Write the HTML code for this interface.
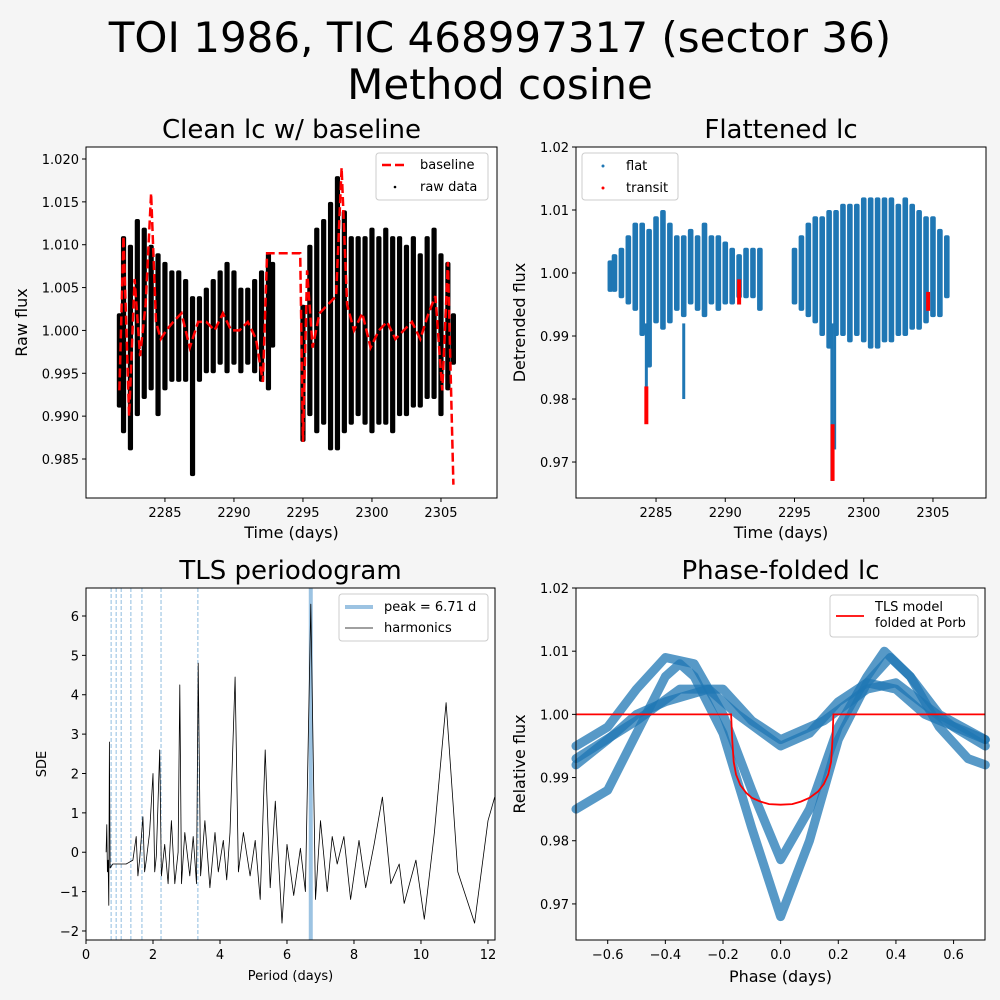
<!DOCTYPE html>
<html><head><meta charset="utf-8"><style>
html,body{margin:0;padding:0;background:#f5f5f5;}
svg{display:block;font-family:"DejaVu Sans","Liberation Sans",sans-serif;}
</style></head><body>
<svg id="fig" width="1000" height="1000" viewBox="0 0 1000 1000" xmlns="http://www.w3.org/2000/svg">
<rect x="0" y="0" width="1000" height="1000" fill="#f5f5f5"/>
<text x="500" y="52" text-anchor="middle" font-size="42" fill="#000">TOI 1986, TIC 468997317 (sector 36)</text>
<text x="500" y="99" text-anchor="middle" font-size="42" fill="#000">Method cosine</text>
</svg>
<script>
// ---- Panel 1: raw light curve (0.5-day bins: hi / lo envelope) ----
const rawTimes = [2281.7,2282,2282.5,2283,2283.5,2284,2284.5,2285,2285.5,2286,2286.5,2287,2287.5,2288,2288.5,2289,2289.5,2290,2290.5,2291,2291.5,2292,2292.5,2292.8,
 2295,2295.5,2296,2296.5,2297,2297.5,2298,2298.5,2299,2299.5,2300,2300.5,2301,2301.5,2302,2302.5,2303,2303.5,2304,2304.5,2305,2305.5,2305.9];
const rawHi = [1.002,1.011,1.010,1.013,1.012,1.010,1.009,1.008,1.007,1.007,1.006,1.004,1.004,1.005,1.006,1.007,1.008,1.007,1.005,1.005,1.006,1.007,1.009,1.008,
 1.003,1.010,1.012,1.013,1.015,1.018,1.014,1.011,1.011,1.011,1.012,1.011,1.012,1.011,1.011,1.010,1.011,1.009,1.011,1.012,1.009,1.008,1.002];
const rawLo = [0.991,0.988,0.986,0.990,0.992,0.993,0.990,0.993,0.994,0.994,0.994,0.983,0.994,0.995,0.995,0.996,0.995,0.996,0.995,0.996,0.995,0.994,0.993,0.998,
 0.987,0.990,0.988,0.989,0.986,0.986,0.988,0.989,0.990,0.989,0.988,0.989,0.989,0.988,0.990,0.990,0.991,0.991,0.992,0.992,0.990,0.993,0.996];
const baseT = [2281.7,2282,2282.4,2282.8,2283.2,2283.6,2284.0,2284.35,2284.7,2285.1,2285.6,2286.2,2286.8,2287.4,2288,2288.6,2289.2,2289.8,2290.4,2291,2291.6,2292.1,2292.4,2292.7,2294.8,
 2295.0,2295.3,2295.7,2296.2,2296.8,2297.4,2297.8,2298.2,2298.7,2299.3,2299.9,2300.5,2301.1,2301.7,2302.3,2302.9,2303.5,2304.1,2304.6,2305.1,2305.5,2305.9];
const baseF = [0.993,1.011,0.990,1.006,0.997,1.003,1.016,1.001,0.999,1.000,1.001,1.002,0.998,1.001,1.001,1.000,1.002,1.000,1.000,1.001,0.999,0.994,1.009,1.009,1.009,
 0.987,1.007,0.998,1.002,1.003,1.004,1.019,1.003,1.000,1.002,0.998,1.000,1.001,0.999,1.000,1.001,0.999,1.002,1.004,0.993,1.008,0.982];
// ---- Panel 2: flattened light curve ----
const flatTimes = [2281.7,2282,2282.5,2283,2283.5,2284,2284.5,2285,2285.5,2286,2286.5,2287,2287.5,2288,2288.5,2289,2289.5,2290,2290.5,2291,2291.5,2292,2292.5,
 2295,2295.5,2296,2296.5,2297,2297.5,2298,2298.5,2299,2299.5,2300,2300.5,2301,2301.5,2302,2302.5,2303,2303.5,2304,2304.5,2305,2305.5,2306];
const flatHi = [1.002,1.003,1.004,1.006,1.008,1.008,1.007,1.009,1.010,1.008,1.006,1.006,1.007,1.006,1.008,1.006,1.006,1.005,1.004,1.003,1.004,1.004,1.004,
 1.004,1.006,1.008,1.009,1.009,1.010,1.010,1.011,1.011,1.011,1.012,1.012,1.012,1.012,1.012,1.011,1.012,1.011,1.010,1.009,1.009,1.007,1.006];
const flatLo = [0.997,0.997,0.996,0.995,0.994,0.990,0.985,0.992,0.991,0.992,0.994,0.993,0.995,0.994,0.993,0.995,0.994,0.995,0.995,0.996,0.996,0.996,0.994,
 0.995,0.994,0.993,0.992,0.990,0.988,0.990,0.990,0.989,0.990,0.989,0.988,0.988,0.989,0.989,0.990,0.990,0.991,0.991,0.992,0.993,0.993,0.996];
const dipT = [2284.3,2287.0,2297.7,2297.9];
const dipMin = [0.977,0.980,0.967,0.972];
const transitT = [2284.3,2291.0,2297.75,2304.65];
const transitLo = [0.976,0.995,0.967,0.994];
const transitHi = [0.982,0.999,0.976,0.997];
// ---- Panel 3: TLS periodogram ----
const periods = [0.6,0.62,0.64,0.66,0.68,0.7,0.72,0.8,1.0,1.2,1.4,1.5,1.55,1.6,1.7,1.75,1.8,1.9,2.0,2.05,2.1,2.2,2.25,2.35,2.45,2.55,2.65,2.75,2.8,2.85,2.95,3.1,3.2,3.3,3.35,3.42,3.55,3.7,3.85,3.95,4.1,4.2,4.3,4.45,4.55,4.7,4.9,5.05,5.2,5.35,5.5,5.65,5.85,6.0,6.2,6.4,6.55,6.71,6.85,7.0,7.2,7.35,7.5,7.7,7.9,8.15,8.35,8.6,8.85,9.1,9.35,9.5,9.85,10.1,10.4,10.75,11.1,11.6,12.0,12.2];
const sde = [0,0.7,-0.5,-0.2,-1.35,2.8,-0.4,-0.3,-0.3,-0.3,-0.2,0.4,-0.6,-0.2,0.9,-0.5,-0.2,0.5,2.0,-0.5,-0.1,2.6,-0.6,0.2,-0.8,0.8,-0.8,0,4.25,-0.8,0.5,-0.6,0.4,-0.8,4.8,-0.6,0.8,-0.9,0.5,-0.5,0.3,-0.7,0.5,4.45,-0.5,0.5,-0.6,0.3,-1.2,2.6,-0.9,1.3,-1.8,0.2,-1.1,0.1,-1,6.3,-1.2,0.8,-1,0.4,-0.3,0.4,-1.2,0.3,-0.9,0.2,1.4,-0.8,-0.3,-1.3,-0.2,-1.7,0.5,3.8,-0.5,-1.8,0.8,1.4];
const harmonics = [0.75,0.9,1.05,1.34,1.67,2.24,3.34];
const peakPeriod = [6.71];
// ---- Panel 4: phase-folded ----
const phaseD = [-0.71,-0.6,-0.5,-0.4,-0.35,-0.3,-0.2,-0.1,0,0.1,0.2,0.3,0.38,0.45,0.55,0.65,0.71];
const fluxD  = [0.985,0.988,0.997,1.006,1.008,1.006,0.997,0.982,0.968,0.980,0.996,1.005,1.009,1.006,0.998,0.993,0.992];
const phaseM = [-0.71,-0.6,-0.5,-0.4,-0.3,-0.2,-0.1,0,0.1,0.2,0.3,0.36,0.45,0.55,0.71];
const fluxM  = [0.995,0.998,1.004,1.009,1.008,1.000,0.988,0.977,0.985,0.998,1.006,1.010,1.006,1.000,0.996];
const phaseS = [-0.71,-0.6,-0.5,-0.4,-0.25,-0.15,0,0.1,0.2,0.3,0.4,0.5,0.71];
const fluxS  = [0.992,0.996,1.000,1.002,1.004,1.000,0.995,0.997,1.002,1.005,1.004,1.000,0.996];
const phaseS2 = [-0.71,-0.5,-0.35,-0.2,-0.1,0,0.15,0.3,0.4,0.6,0.71];
const fluxS2  = [0.993,0.999,1.004,1.004,0.999,0.996,0.999,1.004,1.005,0.998,0.995];
const modelPhase = [-0.71,-0.172,-0.168,-0.163,-0.155,-0.14,-0.12,-0.1,-0.07,-0.04,0,0.04,0.07,0.1,0.13,0.15,0.165,0.175,0.18,0.183,0.71];
const modelFlux  = [1,1,0.996,0.9925,0.9905,0.9888,0.9876,0.9868,0.9862,0.9858,0.9857,0.9858,0.9862,0.9868,0.9878,0.989,0.9905,0.9925,0.996,1,1];

const NS='http://www.w3.org/2000/svg';
const fig=document.getElementById('fig');
function mk(tag,attrs,parent){const e=document.createElementNS(NS,tag);for(const k in attrs)e.setAttribute(k,attrs[k]);(parent||fig).appendChild(e);return e;}
function scale(d0,d1,p0,p1){return v=>p0+(v-d0)*(p1-p0)/(d1-d0);}
function fmt(v,dec){let s=v.toFixed(dec);if(v<0&&parseFloat(s)!==0)s='\u2212'+s.slice(1);if(parseFloat(s)===0)s=(0).toFixed(dec);return s;}

function axes(o){
  const g=mk('g',{});
  
  
  const bg=mk('rect',{x:o.x0,y:o.y0,width:o.x1-o.x0,height:o.y1-o.y0,fill:'#fff'},g);
  
  
  const X=scale(o.xd[0],o.xd[1],o.x0,o.x1), Y=scale(o.yd[0],o.yd[1],o.y1,o.y0);
  const marks=mk('g',{},g);
  
  
  const t=mk('text',{x:(o.x0+o.x1)/2,y:o.y0-9,'text-anchor':'middle','font-size':26},g);t.textContent=o.title;
  
  
  return {g,marks,X,Y,o};
}
function finish(a){
  const o=a.o,g=a.g;
  const fr=mk('rect',{x:o.x0,y:o.y0,width:o.x1-o.x0,height:o.y1-o.y0,fill:'none',stroke:'#000','stroke-width':1},g);
  
  
  const xa=mk('g',{},g);
  
  
  o.xt.forEach(v=>{const px=a.X(v);mk('line',{x1:px,x2:px,y1:o.y1,y2:o.y1+4,stroke:'#000'},xa);
    const tx=mk('text',{x:px,y:o.y1+19,'text-anchor':'middle','font-size':13},xa);tx.textContent=fmt(v,o.xdec);
    
    });
  const ya=mk('g',{},g);
  
  
  o.yt.forEach(v=>{const py=a.Y(v);mk('line',{x1:o.x0-4,x2:o.x0,y1:py,y2:py,stroke:'#000'},ya);
    const tx=mk('text',{x:o.x0-7,y:py+5,'text-anchor':'end','font-size':13},ya);tx.textContent=fmt(v,o.ydec);
    
    });
  const xl=mk('text',{x:(o.x0+o.x1)/2,y:o.y1+o.xlOff,'text-anchor':'middle','font-size':o.lfs},g);xl.textContent=o.xl;
  
  
  const yx=o.ylX, yy=(o.y0+o.y1)/2;
  const yl=mk('text',{x:yx,y:yy,'text-anchor':'middle','font-size':o.lfs,transform:`rotate(-90 ${yx} ${yy})`},g);yl.textContent=o.yl;
  
  
}
function rng(a,b,s){const r=[];for(let v=a;v<=b+1e-9;v+=s)r.push(Math.round(v*1e6)/1e6);return r;}
function line(a,xs,ys,attrs,name){const d=xs.map((x,i)=>(i?'L':'M')+a.X(x).toFixed(1)+' '+a.Y(ys[i]).toFixed(1)).join(' ');
  const p=mk('path',Object.assign({d,fill:'none'},attrs),a.marks);
  
  return p;}

// Panel 1
const A1=axes({name:'clean-lc-panel',title:'Clean lc w/ baseline',x0:86,x1:497,y0:147,y1:498,xd:[2279.28,2309.06],yd:[0.98045,1.0214],
  xt:rng(2285,2305,5),yt:rng(0.985,1.02,0.005),xdec:0,ydec:3,xl:'Time (days)',yl:'Raw flux',lfs:16,xlOff:40,ylX:27});
rawTimes.forEach((t,i)=>{const x=A1.X(t);const r=mk('rect',{x:x-2.6,y:A1.Y(rawHi[i]),width:5.2,height:A1.Y(rawLo[i])-A1.Y(rawHi[i]),fill:'#000',rx:2},A1.marks);
  
  });
line(A1,baseT,baseF,{stroke:'#f00','stroke-width':2.5,'stroke-dasharray':'9,4'},'baseline-line');
finish(A1);
{const lg=mk('g',{},A1.g);
 
 
 mk('rect',{x:376,y:153,width:112,height:47,rx:3,fill:'#fff',stroke:'#ccc'},lg);
 mk('line',{x1:382,x2:408,y1:165,y2:165,stroke:'#f00','stroke-width':2.5,'stroke-dasharray':'9,4'},lg);
 let t=mk('text',{x:420,y:169,'font-size':13},lg);t.textContent='baseline';
 mk('circle',{cx:395,cy:187,r:1.3,fill:'#000'},lg);
 t=mk('text',{x:420,y:191,'font-size':13},lg);t.textContent='raw data';}

// Panel 2
const A2=axes({name:'flattened-lc-panel',title:'Flattened lc',x0:576,x1:986,y0:147,y1:498,xd:[2279.22,2308.83],yd:[0.96429,1.02],
  xt:rng(2285,2305,5),yt:rng(0.97,1.02,0.01),xdec:0,ydec:2,xl:'Time (days)',yl:'Detrended flux',lfs:16,xlOff:40,ylX:525});
flatTimes.forEach((t,i)=>{const x=A2.X(t);const r=mk('rect',{x:x-2.8,y:A2.Y(flatHi[i]),width:5.6,height:A2.Y(flatLo[i])-A2.Y(flatHi[i]),fill:'#1f77b4',rx:2},A2.marks);
  
  });
dipT.forEach((t,i)=>{const x=A2.X(t);const r=mk('rect',{x:x-1.5,y:A2.Y(0.992),width:3,height:A2.Y(dipMin[i])-A2.Y(0.992),fill:'#1f77b4'},A2.marks);
  
  });
transitT.forEach((t,i)=>{const x=A2.X(t);const r=mk('rect',{x:x-2,y:A2.Y(transitHi[i]),width:4,height:A2.Y(transitLo[i])-A2.Y(transitHi[i]),fill:'#f00'},A2.marks);
  
  });
finish(A2);
{const lg=mk('g',{},A2.g);
 
 
 mk('rect',{x:582,y:153,width:96,height:47,rx:3,fill:'#fff',stroke:'#ccc'},lg);
 mk('circle',{cx:603,cy:166,r:1.5,fill:'#1f77b4'},lg);
 let t=mk('text',{x:626,y:170,'font-size':13},lg);t.textContent='flat';
 mk('circle',{cx:603,cy:188,r:1.5,fill:'#f00'},lg);
 t=mk('text',{x:626,y:192,'font-size':13},lg);t.textContent='transit';}

// Panel 3
const A3=axes({name:'tls-periodogram-panel',title:'TLS periodogram',x0:86,x1:495,y0:588,y1:940,xd:[0,12.21],yd:[-2.229,6.711],
  xt:rng(0,12,2),yt:rng(-2,6,1),xdec:0,ydec:0,xl:'Period (days)',yl:'SDE',lfs:13,xlOff:40,ylX:46});
peakPeriod.forEach(p=>{const x=A3.X(p);const r=mk('line',{x1:x,x2:x,y1:588,y2:940,stroke:'#9cc3e2','stroke-width':4},A3.marks);
  
  });
harmonics.forEach(p=>{const x=A3.X(p);const r=mk('line',{x1:x,x2:x,y1:588,y2:940,stroke:'#8fbde0','stroke-width':1,'stroke-dasharray':'4,2'},A3.marks);
  
  });
line(A3,periods,sde,{stroke:'#000','stroke-width':0.8,'stroke-linejoin':'round'},'sde-line');
finish(A3);
{const lg=mk('g',{},A3.g);
 
 
 mk('rect',{x:339,y:594,width:149,height:47,rx:3,fill:'#fff',stroke:'#ccc'},lg);
 mk('line',{x1:345,x2:373,y1:607,y2:607,stroke:'#9cc3e2','stroke-width':4},lg);
 let t=mk('text',{x:384,y:611,'font-size':13},lg);t.textContent='peak = 6.71 d';
 mk('line',{x1:345,x2:373,y1:628,y2:628,stroke:'#000','stroke-width':0.8},lg);
 t=mk('text',{x:384,y:632,'font-size':13},lg);t.textContent='harmonics';}

// Panel 4
const A4=axes({name:'phase-folded-panel',title:'Phase-folded lc',x0:576,x1:985,y0:588,y1:940,xd:[-0.71,0.709],yd:[0.96429,1.02],
  xt:rng(-0.6,0.6,0.2),yt:rng(0.97,1.02,0.01),xdec:1,ydec:2,xl:'Phase (days)',yl:'Relative flux',lfs:16,xlOff:42,ylX:525});
[[phaseD,fluxD,'branch-deep'],[phaseM,fluxM,'branch-mid'],[phaseS,fluxS,'branch-shallow'],[phaseS2,fluxS2,'branch-shallow-2']].forEach(b=>{
  line(A4,b[0],b[1],{stroke:'#1f77b4','stroke-width':9,'stroke-opacity':0.75,'stroke-linejoin':'round','stroke-linecap':'round'},b[2]);});
line(A4,modelPhase,modelFlux,{stroke:'#f00','stroke-width':1.8},'tls-model-line');
finish(A4);
{const lg=mk('g',{},A4.g);
 
 
 mk('rect',{x:830,y:595,width:148,height:42,rx:3,fill:'#fff',stroke:'#ccc'},lg);
 mk('line',{x1:836,x2:864,y1:616,y2:616,stroke:'#f00','stroke-width':1.8},lg);
 let t=mk('text',{x:875,y:611,'font-size':13},lg);t.textContent='TLS model';
 t=mk('text',{x:875,y:627,'font-size':13},lg);t.textContent='folded at Porb';}
</script>
</body></html>
